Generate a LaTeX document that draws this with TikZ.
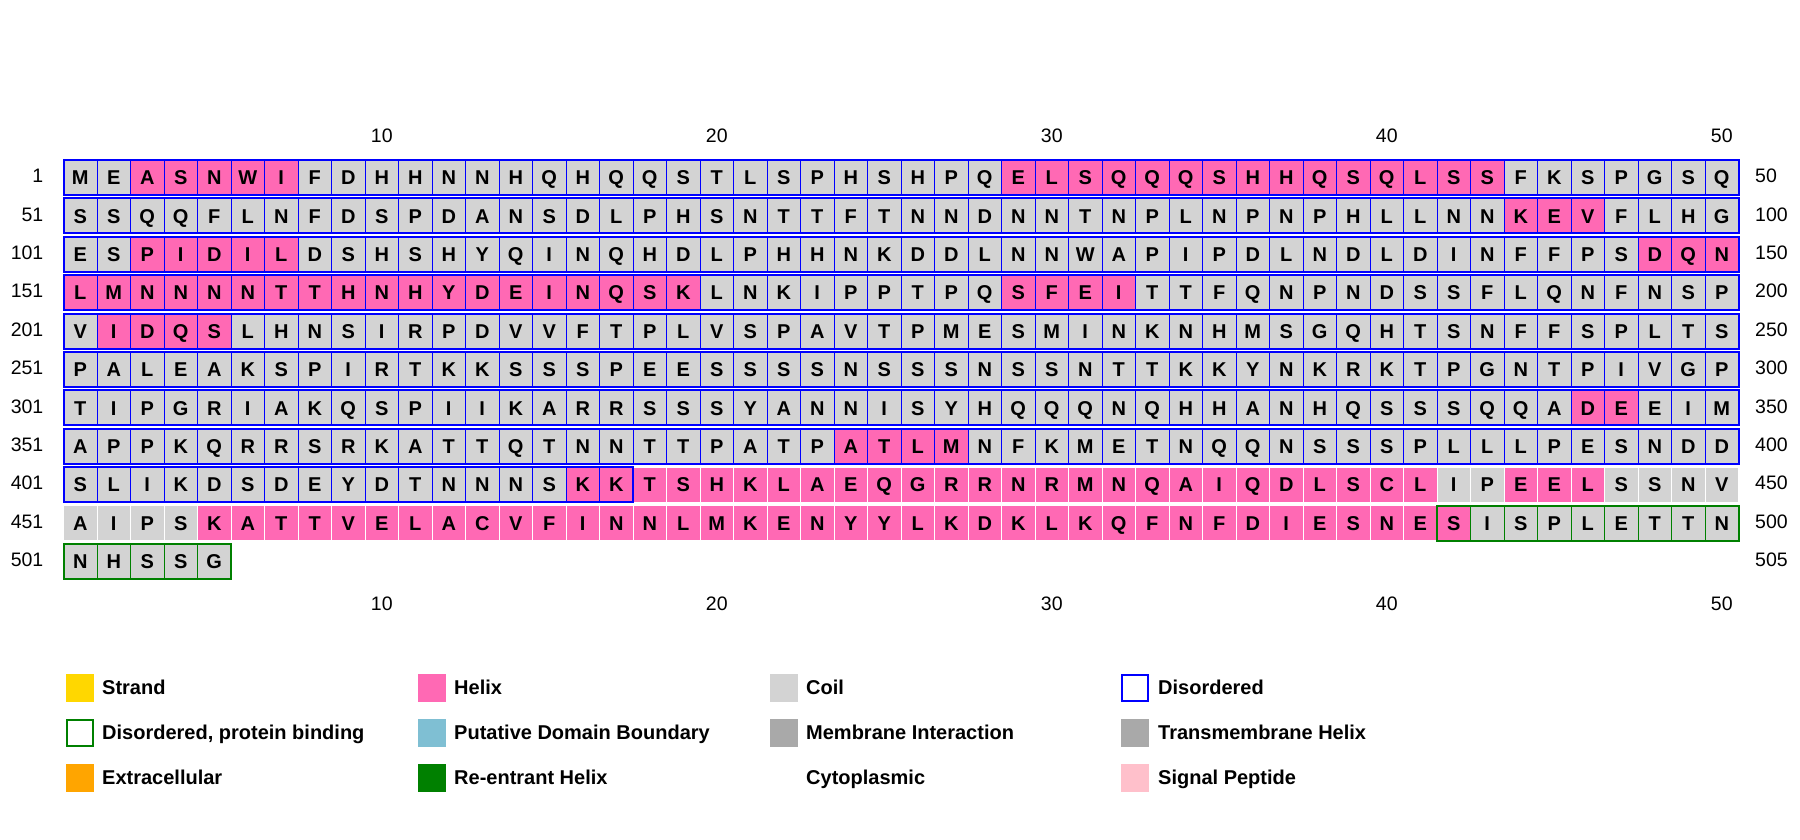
\documentclass[tikz,border=0pt]{standalone}
\usepackage{fontspec}
\setmainfont{Liberation Sans}
\definecolor{helixc}{HTML}{FF69B4}
\definecolor{coilc}{HTML}{D3D3D3}
\definecolor{disc}{HTML}{0000FF}
\definecolor{pbc}{HTML}{008000}
\definecolor{strandc}{HTML}{FFD700}
\definecolor{pdbc}{HTML}{7FBFD3}
\definecolor{memc}{HTML}{A9A9A9}
\definecolor{extc}{HTML}{FFA500}
\definecolor{sigc}{HTML}{FFC0CB}
\begin{document}
\begin{tikzpicture}[x=1pt,y=-1pt,
  res/.style={font=\fontsize{20}{20}\selectfont\bfseries, inner sep=0pt, anchor=base},
  num/.style={font=\fontsize{19.5}{20}\selectfont, inner sep=0pt},
  legtxt/.style={font=\fontsize{20}{20}\selectfont\bfseries, inner sep=0pt, anchor=base west},
  cellbox/.style={draw=white, line width=1pt},
  discell/.style={draw=disc, line width=1pt},
  pbcell/.style={draw=pbc, line width=1pt},
  disseg/.style={draw=disc, line width=2pt},
  pbseg/.style={draw=pbc, line width=2pt},
  legbox/.style={minimum width=28pt, minimum height=28pt, inner sep=0pt, anchor=center},
  ]
\useasboundingbox (0,0) rectangle (1800,840);
\def\cw{33.5}\def\ch{35}\def\rp{38.4}\def\xo{63.5}\def\yo{160}
% residue cells
\foreach \aa [count=\n] in {
M,E,A,S,N,W,I,F,D,H,H,N,N,H,Q,H,Q,Q,S,T,L,S,P,H,S,H,P,Q,E,L,S,Q,Q,Q,S,H,H,Q,S,Q,L,S,S,F,K,S,P,G,S,Q,
S,S,Q,Q,F,L,N,F,D,S,P,D,A,N,S,D,L,P,H,S,N,T,T,F,T,N,N,D,N,N,T,N,P,L,N,P,N,P,H,L,L,N,N,K,E,V,F,L,H,G,
E,S,P,I,D,I,L,D,S,H,S,H,Y,Q,I,N,Q,H,D,L,P,H,H,N,K,D,D,L,N,N,W,A,P,I,P,D,L,N,D,L,D,I,N,F,F,P,S,D,Q,N,
L,M,N,N,N,N,T,T,H,N,H,Y,D,E,I,N,Q,S,K,L,N,K,I,P,P,T,P,Q,S,F,E,I,T,T,F,Q,N,P,N,D,S,S,F,L,Q,N,F,N,S,P,
V,I,D,Q,S,L,H,N,S,I,R,P,D,V,V,F,T,P,L,V,S,P,A,V,T,P,M,E,S,M,I,N,K,N,H,M,S,G,Q,H,T,S,N,F,F,S,P,L,T,S,
P,A,L,E,A,K,S,P,I,R,T,K,K,S,S,S,P,E,E,S,S,S,S,N,S,S,S,N,S,S,N,T,T,K,K,Y,N,K,R,K,T,P,G,N,T,P,I,V,G,P,
T,I,P,G,R,I,A,K,Q,S,P,I,I,K,A,R,R,S,S,S,Y,A,N,N,I,S,Y,H,Q,Q,Q,N,Q,H,H,A,N,H,Q,S,S,S,Q,Q,A,D,E,E,I,M,
A,P,P,K,Q,R,R,S,R,K,A,T,T,Q,T,N,N,T,T,P,A,T,P,A,T,L,M,N,F,K,M,E,T,N,Q,Q,N,S,S,S,P,L,L,L,P,E,S,N,D,D,
S,L,I,K,D,S,D,E,Y,D,T,N,N,N,S,K,K,T,S,H,K,L,A,E,Q,G,R,R,N,R,M,N,Q,A,I,Q,D,L,S,C,L,I,P,E,E,L,S,S,N,V,
A,I,P,S,K,A,T,T,V,E,L,A,C,V,F,I,N,N,L,M,K,E,N,Y,Y,L,K,D,K,L,K,Q,F,N,F,D,I,E,S,N,E,S,I,S,P,L,E,T,T,N,
N,H,S,S,G} {
  \pgfmathtruncatemacro\row{(\n-1)/50}
  \pgfmathtruncatemacro\col{\n-1-50*\row}
  \pgfmathtruncatemacro\hel{(\n>=3&&\n<=7)||(\n>=29&&\n<=43)||(\n>=94&&\n<=96)||(\n>=103&&\n<=107)||(\n>=148&&\n<=169)||(\n>=179&&\n<=182)||(\n>=202&&\n<=205)||(\n>=346&&\n<=347)||(\n>=374&&\n<=377)||(\n>=416&&\n<=441)||(\n>=444&&\n<=446)||(\n>=455&&\n<=492)}
  \pgfmathsetmacro\xl{\xo+\col*\cw}
  \pgfmathsetmacro\yt{\yo+\row*\rp}
  \ifnum\hel=1 \def\fc{helixc}\else\def\fc{coilc}\fi
  \path[cellbox, fill=\fc] (\xl,\yt) rectangle ++(\cw,\ch);
  \node[res] (aa\n) at (\xl+\cw/2, \yt+\ch/2+7.2) {\aa};
}
% per-cell outlines of disordered residues
\foreach \n in {1,...,417} {
  \pgfmathtruncatemacro\row{(\n-1)/50}
  \pgfmathtruncatemacro\col{\n-1-50*\row}
  \path[discell] (\xo+\col*\cw,\yo+\row*\rp) rectangle ++(\cw,\ch);
}
\foreach \n in {492,...,505} {
  \pgfmathtruncatemacro\row{(\n-1)/50}
  \pgfmathtruncatemacro\col{\n-1-50*\row}
  \path[pbcell] (\xo+\col*\cw,\yo+\row*\rp) rectangle ++(\cw,\ch);
}
% segment outlines
\foreach \r in {0,...,7} {
  \path[disseg] (\xo,\yo+\r*\rp) rectangle ++(50*\cw,\ch);
}
\path[disseg] (\xo,\yo+8*\rp) rectangle ++(17*\cw,\ch);
\path[pbseg] (\xo+41*\cw,\yo+9*\rp) rectangle ++(9*\cw,\ch);
\path[pbseg] (\xo,\yo+10*\rp) rectangle ++(5*\cw,\ch);
% row numbers
\foreach \l/\rr [count=\i from 0] in {1/50,51/100,101/150,151/200,201/250,251/300,301/350,351/400,401/450,451/500,501/505} {
  \node[num, anchor=east] (left\i) at (43.5,\yo+\i*\rp+\ch/2-1.5) {\l};
  \node[num, anchor=west] (right\i) at (1755,\yo+\i*\rp+\ch/2-1.5) {\rr};
}
% column numbers
\foreach \c in {10,20,30,40,50} {
  \node[num] (top\c) at (\xo+\c*\cw-\cw/2,135.5) {\c};
  \node[num] (bot\c) at (\xo+\c*\cw-\cw/2,603.5) {\c};
}
% legend
\node[legbox, fill=strandc] (lg1) at (79.5,687.7) {};
\node[legtxt] (lt1) at (102,694) {Strand};
\node[legbox, fill=helixc] (lg2) at (431.5,687.7) {};
\node[legtxt] (lt2) at (454,694) {Helix};
\node[legbox, fill=coilc] (lg3) at (783.5,687.7) {};
\node[legtxt] (lt3) at (806,694) {Coil};
\node[legbox, draw=disc, line width=2pt, fill=white, minimum width=26pt, minimum height=26pt] (lg4) at (1134.5,687.7) {};
\node[legtxt] (lt4) at (1158,694) {Disordered};
\node[legbox, draw=pbc, line width=2pt, fill=white, minimum width=26pt, minimum height=26pt] (lg5) at (79.5,732.5) {};
\node[legtxt] (lt5) at (102,739) {Disordered, protein binding};
\node[legbox, fill=pdbc] (lg6) at (431.5,732.5) {};
\node[legtxt] (lt6) at (454,739) {Putative Domain Boundary};
\node[legbox, fill=memc] (lg7) at (783.5,732.5) {};
\node[legtxt] (lt7) at (806,739) {Membrane Interaction};
\node[legbox, fill=memc] (lg8) at (1134.5,732.5) {};
\node[legtxt] (lt8) at (1158,739) {Transmembrane Helix};
\node[legbox, fill=extc] (lg9) at (79.5,777.7) {};
\node[legtxt] (lt9) at (102,784) {Extracellular};
\node[legbox, fill=pbc] (lg10) at (431.5,777.7) {};
\node[legtxt] (lt10) at (454,784) {Re-entrant Helix};
\node[legbox, fill=white] (lg11) at (783.5,777.7) {};
\node[legtxt] (lt11) at (806,784) {Cytoplasmic};
\node[legbox, fill=sigc] (lg12) at (1134.5,777.7) {};
\node[legtxt] (lt12) at (1158,784) {Signal Peptide};
\end{tikzpicture}
\end{document}
